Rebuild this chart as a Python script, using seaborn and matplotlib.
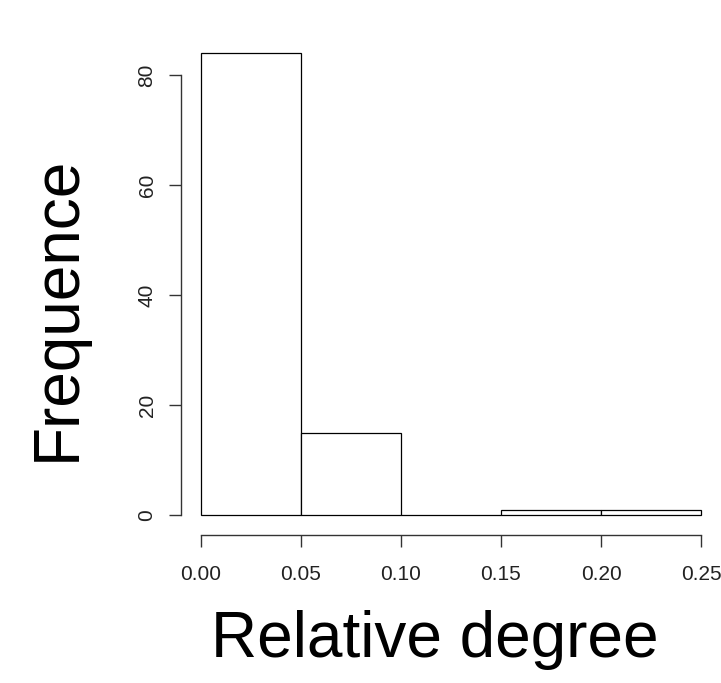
"""
R-style histogram of relative degree, redrawn with seaborn.
"""
import matplotlib
matplotlib.use("Agg")
import matplotlib.pyplot as plt
import seaborn as sns
import pandas as pd

# histogram
bin_edges = [0.00, 0.05, 0.10, 0.15, 0.20, 0.25]
bin_centers = [0.025, 0.075, 0.125, 0.175, 0.225]
counts = [84, 15, 0, 1, 1]
x_ticks = [0.00, 0.05, 0.10, 0.15, 0.20, 0.25]
x_tick_labels = ["0.00", "0.05", "0.10", "0.15", "0.20", "0.25"]
y_ticks = [0, 20, 40, 60, 80]

sns.set_style("white")
plt.rcParams["font.family"] = ["Liberation Sans", "DejaVu Sans"]

df = pd.DataFrame({"degree": bin_centers, "n": counts})

W, H = 721, 683
fig = plt.figure(figsize=(W / 100, H / 100), dpi=100)
# axes box in pixels: x 181..721, y 40..535 (top-down)
ax = fig.add_axes([181 / W, (H - 535) / H, 540 / W, 495 / H])

sns.histplot(data=df, x="degree", weights="n", bins=bin_edges,
             stat="count", fill=True, color="white", edgecolor="black",
             linewidth=0.9, alpha=1, ax=ax)

ax.set_xlim(-0.01, 0.26)
ax.set_ylim(-20 / 5.5, 495 / 5.5 - 20 / 5.5)

for s in ["top", "right"]:
    ax.spines[s].set_visible(False)
ax.spines["left"].set_bounds(0, 80)
ax.spines["bottom"].set_bounds(0, 0.25)
for s in ["left", "bottom"]:
    ax.spines[s].set_color("#333333")
    ax.spines[s].set_linewidth(1.0)

ax.set_xticks(x_ticks)
ax.set_xticklabels(x_tick_labels)
ax.set_yticks(y_ticks)
ax.set_yticklabels([str(v) for v in y_ticks], rotation=90, va="center")
ax.tick_params(axis="both", direction="out", length=8.6, width=1.0,
               color="#333333", labelsize=15, labelcolor="#222222",
               left=True, bottom=True)
ax.tick_params(axis="x", pad=13)
ax.tick_params(axis="y", pad=9)

ax.set_xlabel("")
ax.set_ylabel("")
fig.text(435 / W, 1 - 657 / H, "Relative degree", fontsize=46,
         color="black", ha="center", va="baseline")
fig.text(75 / W, 1 - 308 / H, "Frequence", fontsize=46, color="black",
         rotation=90, rotation_mode="anchor", ha="center", va="baseline")

fig.savefig("out.png", dpi=100)
